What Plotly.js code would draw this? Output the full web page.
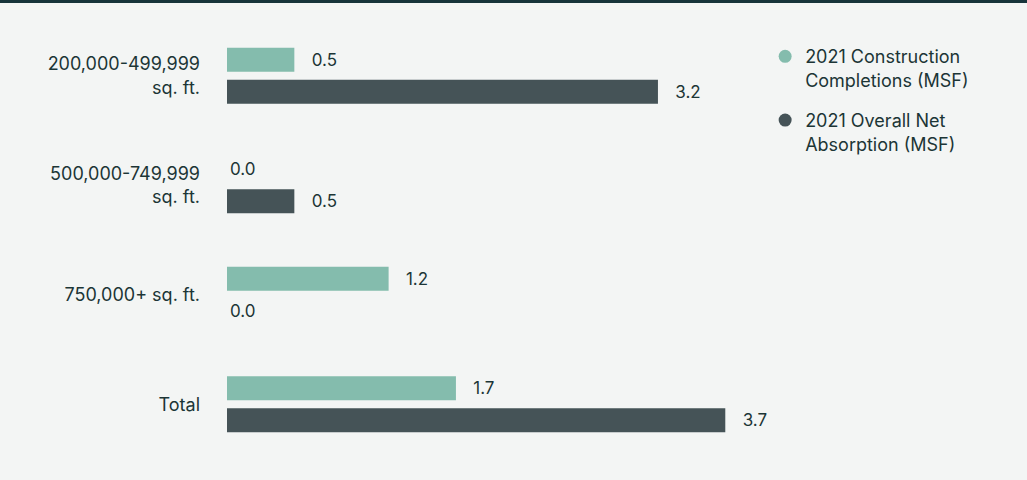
<!DOCTYPE html>
<html>
<head>
<meta charset="utf-8">
<script src="https://cdn.plot.ly/plotly-3.0.1.min.js"></script>
<style>
  html, body { margin: 0; padding: 0; background: #f3f5f4; }
  #topline { height: 3px; background: #17343a; }
  #chart { width: 1027px; height: 477px; }
</style>
</head>
<body>
<div id="topline"></div>
<div id="chart"></div>
<script>
const categories = ["200,000-499,999<br>sq. ft.", "500,000-749,999<br>sq. ft.", "750,000+ sq. ft.", "Total"];
const completions = [0.5, 0.0, 1.2, 1.7];
const absorption = [3.2, 0.5, 0.0, 3.7];
const seriesNames = ["2021 Construction<br>Completions (MSF)", "2021 Overall Net<br>Absorption (MSF)"];
const seriesColors = ["#84bcad", "#455357"];

const textColor = "#1c3536";
const fontFamily = "Inter, Roboto, sans-serif";

// zero bars have their label right at the axis, the others sit a bit off the bar end
function labels(vals) {
    return vals.map(v => v === 0 ? v.toFixed(1) : "\u00a0\u00a0\u00a0" + v.toFixed(1));
}

function barTrace(vals, i) {
    return {
        type: "bar",
        orientation: "h",
        x: vals,
        y: categories,
        text: labels(vals),
        textposition: "outside",
        cliponaxis: false,
        textfont: { family: fontFamily, size: 17, color: textColor },
        marker: { color: seriesColors[i], line: { width: 0 } },
        showlegend: false,
        hoverinfo: "skip"
    };
}

// dummy scatter traces so the legend shows round markers
function legendTrace(i) {
    return {
        type: "scatter",
        mode: "markers",
        x: [null],
        y: [null],
        name: seriesNames[i],
        legendgroup: "g" + i,
        marker: { color: seriesColors[i], size: 13, symbol: "circle" },
        showlegend: true
    };
}

const data = [
    barTrace(completions, 0),
    barTrace(absorption, 1),
    legendTrace(0),
    legendTrace(1)
];

const layout = {
    width: 1027,
    height: 477,
    margin: { l: 227, r: 264, t: 18, b: 21 },
    paper_bgcolor: "#f3f5f4",
    plot_bgcolor: "#f3f5f4",
    font: { family: fontFamily, size: 18, color: textColor },
    barmode: "group",
    bargap: 0.415,
    bargroupgap: 0.25,
    xaxis: {
        range: [0, 3.98],
        showgrid: false,
        zeroline: false,
        showline: false,
        showticklabels: false,
        fixedrange: true
    },
    yaxis: {
        type: "category",
        autorange: "reversed",
        showgrid: false,
        zeroline: false,
        showline: false,
        ticks: "",
        ticklabelstandoff: 26,
        tickfont: { family: fontFamily, size: 18, color: textColor },
        fixedrange: true
    },
    legend: {
        x: 1.004,
        xanchor: "left",
        y: 0.961,
        yanchor: "top",
        valign: "top",
        bgcolor: "rgba(0,0,0,0)",
        font: { family: fontFamily, size: 18, color: textColor },
        itemwidth: 30,
        tracegroupgap: 14
    },
    showlegend: true
};

Plotly.newPlot("chart", data, layout, { displayModeBar: false, staticPlot: true });
</script>
</body>
</html>
